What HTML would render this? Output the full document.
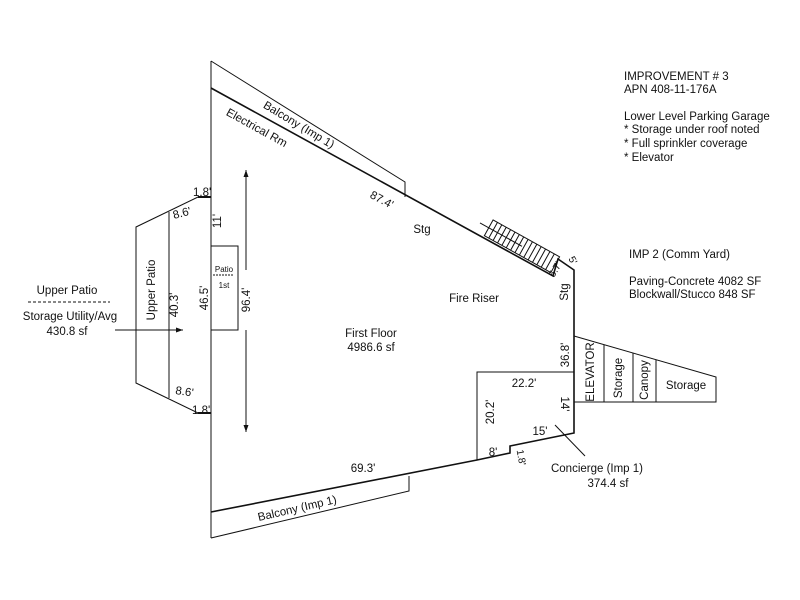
<!DOCTYPE html>
<html><head><style>
html,body{margin:0;padding:0;background:#fff;}
svg{display:block;}
text{font-family:"Liberation Sans",Arial,sans-serif;font-size:11.5px;fill:#111;}
</style></head><body>
<svg width="800" height="600" viewBox="0 0 800 600" xmlns="http://www.w3.org/2000/svg">
<defs>
<marker id="ah" markerWidth="8" markerHeight="8" refX="7" refY="4" orient="auto" markerUnits="userSpaceOnUse"><path d="M0,1.5 L7,4 L0,6.5 z" fill="#111"/></marker>
</defs>
<g stroke="#111" fill="none" stroke-width="1">
<line x1="211" y1="61" x2="211" y2="538"/>
<polyline points="211,61 405,182 405,197"/>
<polyline points="211,88 553,276 558,259 574,270 574,433 510,446 510,453 477,460 211,512" stroke-width="1.6"/>
<polyline points="211,538 409,491 409,476"/>
<polyline points="477,460 477,372 574,372"/>
<polyline points="574,336 716,377 716,402 574,402"/>
<line x1="604" y1="345" x2="604" y2="402"/>
<line x1="633" y1="353" x2="633" y2="402"/>
<line x1="656" y1="360" x2="656" y2="402"/>
<polyline points="211,197 198,197 136,227 136,383 198,413 211,413"/>
<line x1="198" y1="197" x2="211" y2="197" stroke-width="2"/>
<line x1="198" y1="413" x2="211" y2="413" stroke-width="2"/>
<line x1="169" y1="212" x2="169" y2="398"/>
<polyline points="211,246 238,246 238,330 211,330"/>
<line x1="115" y1="330" x2="183" y2="330" marker-end="url(#ah)"/>
<line x1="246" y1="270" x2="246" y2="170" marker-end="url(#ah)"/>
<line x1="246" y1="330" x2="246" y2="432" marker-end="url(#ah)"/>
<line x1="28" y1="302" x2="110" y2="302" stroke-dasharray="3,2"/>
<line x1="213" y1="275" x2="233" y2="275" stroke-dasharray="2,1"/>
<line x1="555" y1="425" x2="585" y2="456"/>
<g transform="translate(521,248) rotate(29)">
<rect x="-38" y="-11" width="76" height="18"/>
<path d="M-33,-11v18M-28,-11v18M-23,-11v18M-18,-11v18M-13,-11v18M-8,-11v18M-3,-11v18M2,-11v18M7,-11v18M12,-11v18M17,-11v18M22,-11v18M27,-11v18M32,-11v18"/>
<line x1="-48" y1="-2" x2="0" y2="-2"/>
</g>
</g>
<g>
<text x="624" y="80">IMPROVEMENT # 3</text>
<text x="624" y="93">APN 408-11-176A</text>
<text x="624" y="120">Lower Level Parking Garage</text>
<text x="624" y="133">* Storage under roof noted</text>
<text x="624" y="147">* Full sprinkler coverage</text>
<text x="624" y="161">* Elevator</text>
<text x="629" y="258">IMP 2 (Comm Yard)</text>
<text x="629" y="285">Paving-Concrete 4082 SF</text>
<text x="629" y="298">Blockwall/Stucco 848 SF</text>
<text x="67" y="294" text-anchor="middle">Upper Patio</text>
<text x="70" y="320" text-anchor="middle">Storage Utility/Avg</text>
<text x="67" y="335" text-anchor="middle">430.8 sf</text>
<text x="371" y="337" text-anchor="middle">First Floor</text>
<text x="371" y="351" text-anchor="middle">4986.6 sf</text>
<text x="422" y="233" text-anchor="middle">Stg</text>
<text x="474" y="302" text-anchor="middle">Fire Riser</text>
<text x="597" y="472" text-anchor="middle">Concierge (Imp 1)</text>
<text x="608" y="487" text-anchor="middle">374.4 sf</text>
<text x="380" y="203" transform="rotate(28 380 203)" text-anchor="middle">87.4'</text>
<text x="363" y="472" text-anchor="middle">69.3'</text>
<text x="524" y="387" text-anchor="middle">22.2'</text>
<text x="540" y="435" text-anchor="middle">15'</text>
<text x="493" y="456" text-anchor="middle">8'</text>
<text x="193" y="196">1.8'</text>
<text x="192" y="414">1.8'</text>
<text x="174" y="219" transform="rotate(-15 174 219)">8.6'</text>
<text x="175" y="394" transform="rotate(8 175 394)">8.6'</text>
<text x="297" y="128" transform="rotate(31 297 128)" text-anchor="middle">Balcony (Imp 1)</text>
<text x="255" y="131" transform="rotate(29 255 131)" text-anchor="middle">Electrical Rm</text>
<text x="298" y="512" transform="rotate(-13 298 512)" text-anchor="middle">Balcony (Imp 1)</text>
<text transform="translate(155,290) rotate(-90)" text-anchor="middle">Upper Patio</text>
<text transform="translate(178,305) rotate(-90)" text-anchor="middle">40.3'</text>
<text transform="translate(208,298) rotate(-90)" text-anchor="middle">46.5'</text>
<text transform="translate(221,221) rotate(-90)" text-anchor="middle">11'</text>
<text transform="translate(250,300) rotate(-90)" text-anchor="middle">96.4'</text>
<text transform="translate(568,292) rotate(-90)" text-anchor="middle">Stg</text>
<text transform="translate(569,355) rotate(-90)" text-anchor="middle">36.8'</text>
<text transform="translate(494,412) rotate(-90)" text-anchor="middle">20.2'</text>
<text transform="translate(561,404) rotate(90)" text-anchor="middle">14'</text>
<text transform="translate(518,458) rotate(80)" text-anchor="middle" style="font-size:10px">1.8'</text>
<text transform="translate(570,262) rotate(60)" text-anchor="middle" style="font-size:10px">5'</text>
<text transform="translate(558,271) rotate(-60)" text-anchor="middle" style="font-size:10px">5.7'</text>
<text transform="translate(594,372) rotate(-90)" text-anchor="middle">ELEVATOR</text>
<text transform="translate(622,378) rotate(-90)" text-anchor="middle">Storage</text>
<text transform="translate(648,380) rotate(-90)" text-anchor="middle">Canopy</text>
<text x="686" y="389" text-anchor="middle">Storage</text>
<text x="224" y="272" text-anchor="middle" style="font-size:8px">Patio</text>
<text x="224" y="288" text-anchor="middle" style="font-size:8px">1st</text>
</g>
</svg>
</body></html>
